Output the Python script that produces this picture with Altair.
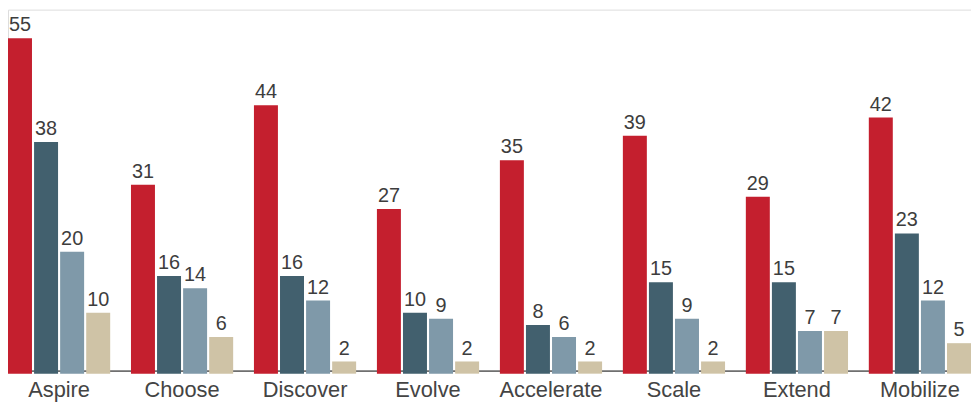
import altair as alt
import pandas as pd

categories = ["Aspire", "Choose", "Discover", "Evolve", "Accelerate", "Scale", "Extend", "Mobilize"]
series_names = ["Series 1", "Series 2", "Series 3", "Series 4"]
series_1 = [55, 31, 44, 27, 35, 39, 29, 42]
series_2 = [38, 16, 16, 10, 8, 15, 15, 23]
series_3 = [20, 14, 12, 9, 6, 9, 7, 12]
series_4 = [10, 6, 2, 2, 2, 2, 7, 5]
colors = ["#c41f2e", "#42606e", "#7f99a9", "#cfc3a6"]

rows = []
for name, vals in zip(series_names, [series_1, series_2, series_3, series_4]):
    for cat, v in zip(categories, vals):
        rows.append({"category": cat, "series": name, "value": v})
df = pd.DataFrame(rows)

FONT = "Liberation Sans"

x = alt.X(
    "category:N",
    sort=categories,
    title=None,
    scale=alt.Scale(paddingInner=0.169, paddingOuter=0),
    axis=alt.Axis(
        labelFontSize=22,
        labelColor="#444444",
        labelFont=FONT,
        labelPadding=9,
        labelAngle=0,
        ticks=False,
        tickSize=0,
        domainColor="#707070",
        domainWidth=2,
        grid=False,
    ),
)
xoff = alt.XOffset("series:N", sort=series_names, scale=alt.Scale(paddingInner=0.08, paddingOuter=0))
y = alt.Y("value:Q", scale=alt.Scale(domain=[0.5, 59.7], zero=False), axis=None)

base = alt.Chart(df).encode(x=x, xOffset=xoff, y=y)

bars = base.mark_bar().encode(
    color=alt.Color("series:N", sort=series_names,
                    scale=alt.Scale(domain=series_names, range=colors), legend=None)
)
labels = base.mark_text(
    baseline="alphabetic", align="center", dy=-7, fontSize=20, font=FONT, color="#3d3d3d"
).encode(text="value:Q")

chart = (
    alt.layer(bars, labels)
    .properties(
        width=971,
        height=364,
        autosize=alt.AutoSizeParams(type="none"),
        padding={"left": 0, "top": 0, "right": 0, "bottom": 30},
    )
    .configure_view(stroke="transparent", strokeWidth=0)
    .configure(background="white")
)

chart.save("out.html", embed_options={"renderer": "svg", "actions": False})
